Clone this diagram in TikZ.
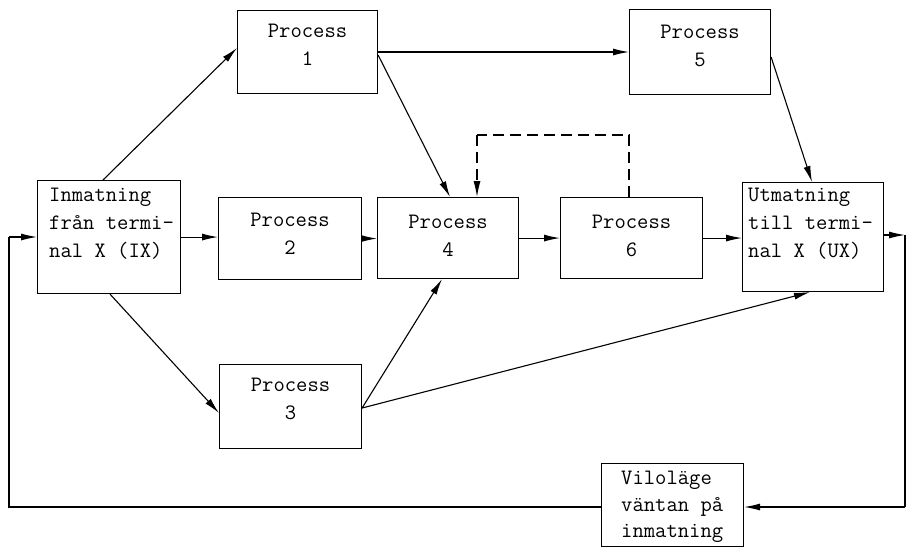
\documentclass[tikz,border=0pt]{standalone}
\usetikzlibrary{arrows.meta,calc}
\begin{document}
\begin{tikzpicture}[x=1pt,y=-1pt,
  box/.style={draw,line width=1.1pt,rectangle,inner sep=0pt,anchor=north west},
  lbl/.style={inner sep=0pt,font=\fontsize{22}{27.8}\selectfont\ttfamily},
  ctr/.style={lbl,align=center,anchor=north},
  lft/.style={lbl,align=left,anchor=north west},
  conn/.style={line width=1.1pt},
  tip/.style={-{Latex[length=16pt,width=7pt]}},
  arr/.style={conn,tip},
  dsh/.style={conn,dash pattern=on 11pt off 6pt}]
\useasboundingbox (0,0) rectangle (907,547);
\clip (0,0) rectangle (907,547);

% boxes
\node[box,minimum width=143pt,minimum height=113pt] (ix) at (37,180) {};
\node[box,minimum width=140pt,minimum height=83pt] (p1) at (237,10) {};
\node[box,minimum width=143pt,minimum height=82pt] (p2) at (218,197) {};
\node[box,minimum width=142pt,minimum height=84pt] (p3) at (219,364) {};
\node[box,minimum width=141pt,minimum height=81pt] (p4) at (377,197) {};
\node[box,minimum width=141pt,minimum height=85pt] (p5) at (629,9) {};
\node[box,minimum width=142pt,minimum height=81pt] (p6) at (560,197) {};
\node[box,minimum width=141pt,minimum height=109pt] (ux) at (742,182) {};
\node[box,minimum width=142pt,minimum height=83pt] (vilo) at (601,463) {};

% texts
\node[lft] (tix) at (49,188) {Inmatning\\från termi-\\nal X (IX)};
\node[ctr] (tp1) at ($(p1.north)+(0,14)$) {Process\\1};
\node[ctr] (tp2) at ($(p2.north)+(0,16)$) {Process\\2};
\node[ctr] (tp3) at ($(p3.north)+(0,14)$) {Process\\3};
\node[ctr] (tp4) at ($(p4.north)+(0,18)$) {Process\\4};
\node[ctr] (tp5) at ($(p5.north)+(0,16)$) {Process\\5};
\node[ctr] (tp6) at ($(p6.north)+(0,18)$) {Process\\6};
\node[lft] (tux) at (748,188) {Utmatning\\till termi-\\nal X (UX)};
\node[lft,font=\fontsize{22}{26.5}\selectfont\ttfamily] (tvi) at (621,471) {Viloläge\\väntan på\\inmatning};

% connectors
\draw[arr] ($(ix.north west)+(66,0)$) -- ($(p1.north west)+(0,38)$);
\draw[arr] (ix.east) -- (ix.east -| p2.west);
\draw[arr] ($(ix.south west)+(73,0)$) -- ($(p3.north west)+(0,49)$);
\coordinate (p1r) at ($(p1.north east)+(0,42)$);
\draw[arr] (p1r) -- (p1r -| p5.west);
\draw[arr] ($(p1.north east)+(0,45)$) -- ($(p4.north west)+(73,0)$);
\draw[arr] (p2.east) -- (p2.east -| p4.west);
\coordinate (p3r) at ($(p3.north east)+(0,44)$);
\draw[arr] (p3r) -- ($(p4.south west)+(65,0)$);
\draw[arr] (p3r) -- ($(ux.south west)+(68,0)$);
\draw[arr] (p4.east) -- (p4.east -| p6.west);
\draw[arr] (p6.east) -- (p6.east -| ux.west);
\draw[arr] ($(p5.north east)+(0,48)$) -- ($(ux.north west)+(70,0)$);

% feedback from process 6 to process 4
\coordinate (d1) at ($(p6.north west)+(69,-62)$);
\coordinate (d2) at ($(p4.north west)+(100,-62)$);
\draw[dsh] ($(p6.north west)+(69,0)$) -- (d1) -- (d2);
\draw[dsh,tip] (d2) -- ($(p4.north west)+(100,0)$);

% loop back through the idle state
\coordinate (ur) at ($(ux.north east)+(0,53)$);
\coordinate (c1) at (905,235);
\coordinate (c2) at (905,507);
\coordinate (c3) at (9,507);
\coordinate (c4) at (9,237);
\draw[arr] (ur) -- (c1);
\draw[conn] (c1) -- (c2);
\draw[arr] (c2) -- (c2 -| vilo.east);
\draw[conn] (c3 -| vilo.west) -- (c3) -- (c4);
\draw[arr] (c4) -- (c4 -| ix.west);
\end{tikzpicture}
\end{document}
